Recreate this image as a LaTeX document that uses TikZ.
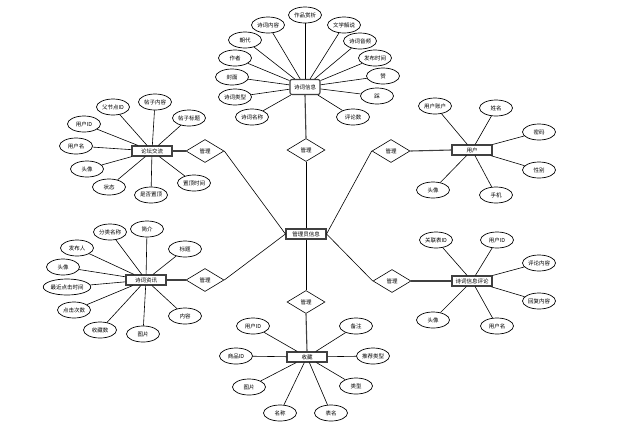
\documentclass[tikz,border=0pt]{standalone}
\usepackage{fontspec}
\setmainfont{Noto Sans CJK SC}
\usetikzlibrary{shapes.geometric}
\colorlet{edgegray}{black!75}

\begin{document}
\begin{tikzpicture}[x=1pt,y=-1pt,font=\fontsize{5.5}{6}\selectfont,
    attr/.style={ellipse,draw,line width=0.7pt,inner sep=0.3pt,minimum width=33pt,minimum height=16pt},
    entity/.style={rectangle,draw=edgegray,line width=1.1pt,inner sep=1pt,minimum width=40pt,minimum height=10pt},
    rel/.style={diamond,draw,line width=0.6pt,inner sep=0pt,minimum width=38pt,minimum height=23pt},
    link/.style={line width=0.6pt},
    thicklink/.style={edgegray,line width=1.1pt}]
    \useasboundingbox (0,0) rectangle (636,437);
    % central entity and relations
    \node[entity] (admin) at (306,234) {管理员信息};
    \node[rel] (rPoem) at (306,150) {管理};
    \node[rel] (rForum) at (205,151) {管理};
    \node[rel] (rUser) at (391,151) {管理};
    \node[rel] (rNews) at (205,280) {管理};
    \node[rel] (rComment) at (392,281) {管理};
    \node[rel] (rFav) at (306,302) {管理};
    \draw[link] (admin.north) -- (rPoem.south);
    \draw[link] (admin.west) -- (rForum.east);
    \draw[link] (admin.east) -- (rUser.west);
    \draw[link] (admin.west) -- (rNews.east);
    \draw[link] (admin.east) -- (rComment.west);
    \draw[link] (admin.south) -- (rFav.north);
    % entities
    \node[entity,rounded corners=2pt,minimum width=30pt,minimum height=15pt] (poem) at (305,87) {诗词信息};
    \node[entity] (forum) at (152,151) {论坛交流};
    \node[entity] (user) at (472,150) {用户};
    \node[entity] (news) at (146,280) {诗词资讯};
    \node[entity] (comment) at (472,281) {诗词信息评论};
    \node[entity] (fav) at (307,357) {收藏};
    \draw[thicklink] (rPoem.north) -- (poem.south);
    \draw[thicklink] (rForum.west) -- (forum.east);
    \draw[thicklink] (rUser.east) -- (user.west);
    \draw[thicklink] (rNews.west) -- (news.east);
    \draw[thicklink] (rComment.east) -- (comment.west);
    \draw[thicklink] (rFav.south) -- (fav.north);
    % attributes
    \foreach \t/\x/\y [count=\i] in {作品赏析/305/15,诗词内容/268/25,文学解说/344/25,朝代/245/40,
        诗词音频/360/41,作者/235/58,发布时间/375/58,封面/232/77,赞/383/76,诗词类型/235/97,
        踩/377/96,诗词名称/252/117,评论数/353/117}{
        \node[attr] (poem\i) at (\x,\y) {\t};
        \draw[link] (poem\i) -- (poem);
    }
    \foreach \t/\x/\y [count=\i] in {父节点ID/113/107,帖子内容/155/102,帖子标题/189/118,用户ID/84/124,
        用户名/76/146,头像/87/169,状态/109/187,是否置顶/151/195,置顶时间/194/183}{
        \node[attr] (forum\i) at (\x,\y) {\t};
        \draw[link] (forum\i) -- (forum);
    }
    \foreach \t/\x/\y [count=\i] in {用户账户/435/106,姓名/496/108,密码/539/132,性别/539/170,
        手机/496/195,头像/433/190}{
        \node[attr] (user\i) at (\x,\y) {\t};
        \draw[link] (user\i) -- (user);
    }
    \foreach \t/\x/\y [count=\i] in {分类名称/110/232,简介/147/229,标题/185/249,发布人/77/248,
        头像/63/267,最近点击时间/67/287,点击次数/74/310,收藏数/100/330,图片/143/334,内容/185/316}{
        \node[attr] (news\i) at (\x,\y) {\t};
        \draw[link] (news\i) -- (news);
    }
    \foreach \t/\x/\y [count=\i] in {关联表ID/436/240,用户ID/497/240,评论内容/539/263,
        回复内容/539/301,用户名/497/326,头像/433/320}{
        \node[attr] (comment\i) at (\x,\y) {\t};
        \draw[link] (comment\i) -- (comment);
    }
    \foreach \t/\x/\y [count=\i] in {用户ID/253/326,备注/356/326,商品ID/236/356,推荐类型/373/356,
        图片/249/387,类型/356/386,名称/280/413,表名/331/413}{
        \node[attr] (fav\i) at (\x,\y) {\t};
        \draw[link] (fav\i) -- (fav);
    }
\end{tikzpicture}
\end{document}
